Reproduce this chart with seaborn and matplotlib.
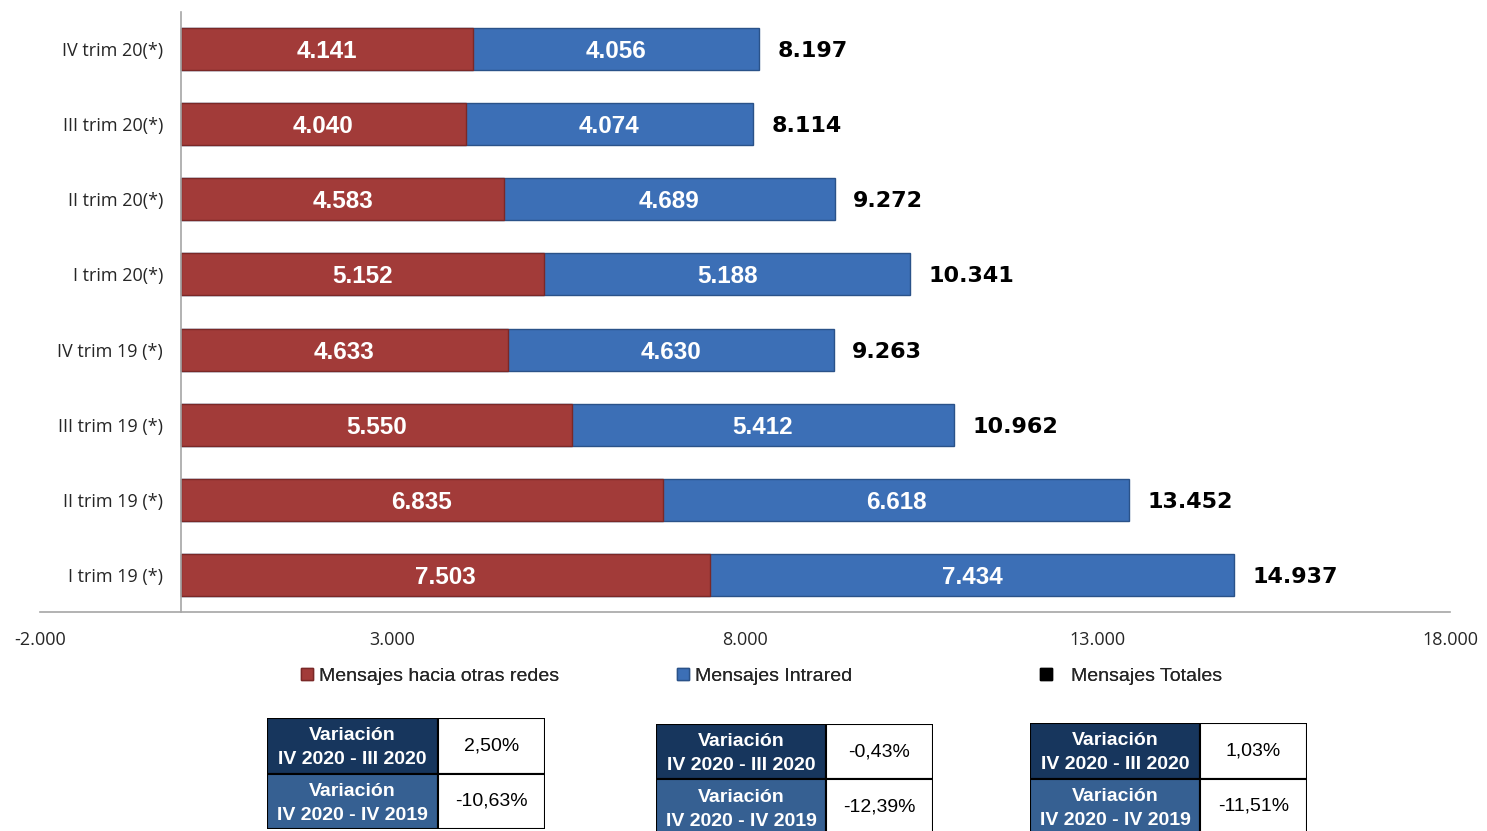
import matplotlib.pyplot as plt
import matplotlib.patches as mpatches
from matplotlib.lines import Line2D
import seaborn as sns
import pandas as pd

# data
trimestres = ['IV trim 20(*)', 'III trim 20(*)', 'II trim 20(*)', 'I trim 20(*)',
              'IV trim 19 (*)', 'III trim 19 (*)', 'II trim 19 (*)', 'I trim 19 (*)']
otras_redes = [4141, 4040, 4583, 5152, 4633, 5550, 6835, 7503]
intrared = [4056, 4074, 4689, 5188, 4630, 5412, 6618, 7434]
totales = [8197, 8114, 9272, 10341, 9263, 10962, 13452, 14937]

x_ticks = [-2000, 3000, 8000, 13000, 18000]

var_labels = ['Variación\nIV 2020 - III 2020', 'Variación\nIV 2020 - IV 2019']
var_otras = ['2,50%', '-10,63%']
var_intra = ['-0,43%', '-12,39%']
var_total = ['1,03%', '-11,51%']

RED = '#A23B39'
BLUE = '#3C6FB6'
NAVY = '#17365D'
STEEL = '#366092'


def fmt(v):
    return f'{v:,}'.replace(',', '.')


df = pd.DataFrame({'trim': trimestres, 'otras': otras_redes,
                   'intra': intrared, 'total': totales})
df['stack'] = df['otras'] + df['intra']

sns.set_style('white')
plt.rcParams['font.family'] = ['Liberation Sans', 'DejaVu Sans']

fig = plt.figure(figsize=(14.87, 8.31), dpi=100)
ax = fig.add_axes([0.0269, 0.2635, 0.9482, 0.7221])

sns.barplot(data=df, x='stack', y='trim', orient='h', color=BLUE, width=0.56,
            saturation=1, edgecolor='#2A5289', linewidth=1, ax=ax)
sns.barplot(data=df, x='otras', y='trim', orient='h', color=RED, width=0.56,
            saturation=1, edgecolor='#7A2827', linewidth=1, ax=ax)

for i, row in df.iterrows():
    ax.text(row['otras'] / 2, i, fmt(row['otras']), ha='center',
            va='center_baseline', color='white', fontsize=17.5, fontweight='bold')
    ax.text(row['otras'] + row['intra'] / 2, i, fmt(row['intra']), ha='center',
            va='center_baseline', color='white', fontsize=17.5, fontweight='bold')
    ax.text(row['stack'] + 260, i, fmt(row['total']), ha='left',
            va='center_baseline', color='black', fontsize=16, fontweight='bold',
            family=['DejaVu Sans'])

# spine position first: moving it resets the tick labels
for s in ['top', 'right']:
    ax.spines[s].set_visible(False)
ax.spines['left'].set_position(('data', 0))
ax.spines['left'].set_color('#A6A6A6')
ax.spines['bottom'].set_color('#A6A6A6')
ax.spines['left'].set_linewidth(1.2)
ax.spines['bottom'].set_linewidth(1.2)

ax.set_xlim(-2000, 18000)
ax.set_ylim(7.5, -0.5)
ax.set_xticks(x_ticks)
ax.set_xticklabels([fmt(t) for t in x_ticks], fontsize=13,
                   family=['Open Sans', 'DejaVu Sans'])
ax.set_yticks(range(len(trimestres)))
ax.set_yticklabels(trimestres, fontsize=13, family=['Open Sans', 'DejaVu Sans'])
ax.set_xlabel('')
ax.set_ylabel('')
ax.tick_params(axis='x', length=0, pad=14)
ax.tick_params(axis='y', length=0, pad=13)

# legend entries placed separately like the reference
legend_items = [
    (mpatches.Patch(facecolor=RED, edgecolor='#7A2827'), 'Mensajes hacia otras redes', 0.196, 0.3),
    (mpatches.Patch(facecolor=BLUE, edgecolor='#2A5289'), 'Mensajes Intrared', 0.449, 0.3),
    (Line2D([], [], marker='s', color='black', linestyle='', markersize=8), 'Mensajes Totales', 0.693, 1.0),
]
for h, lab, xpos, pad in legend_items:
    leg = fig.legend([h], [lab], loc='center left', bbox_to_anchor=(xpos, 0.186),
                     frameon=False, fontsize=14, handlelength=0.6, handleheight=0.6,
                     handletextpad=pad, borderpad=0)
    fig.add_artist(leg)

# variation tables
W, H = 1487, 831


def draw_table(x0, y0, w_left, w_right, h, values):
    tax = fig.add_axes([x0 / W, 1 - (y0 + h) / H, (w_left + w_right) / W, h / H])
    tax.set_xlim(0, w_left + w_right)
    tax.set_ylim(h, 0)
    tax.axis('off')
    rh = h / 2
    for r, (lab, val) in enumerate(zip(var_labels, values)):
        col = NAVY if r == 0 else STEEL
        tax.add_patch(mpatches.Rectangle((0, r * rh), w_left, rh, facecolor=col,
                                         edgecolor='black', linewidth=1.5))
        tax.add_patch(mpatches.Rectangle((w_left, r * rh), w_right, rh,
                                         facecolor='white', edgecolor='black',
                                         linewidth=1.5))
        tax.text(w_left / 2, r * rh + rh / 2 + 2, lab, ha='center', va='center',
                 color='white', fontsize=14, fontweight='bold', linespacing=1.55)
        tax.text(w_left + w_right / 2, r * rh + rh / 2, val, ha='center',
                 va='center', color='black', fontsize=14)


draw_table(267, 718, 171, 107, 111, var_otras)
draw_table(656, 724, 170, 107, 111, var_intra)
draw_table(1030, 723, 170, 107, 111, var_total)

fig.savefig('out.png', dpi=100)
